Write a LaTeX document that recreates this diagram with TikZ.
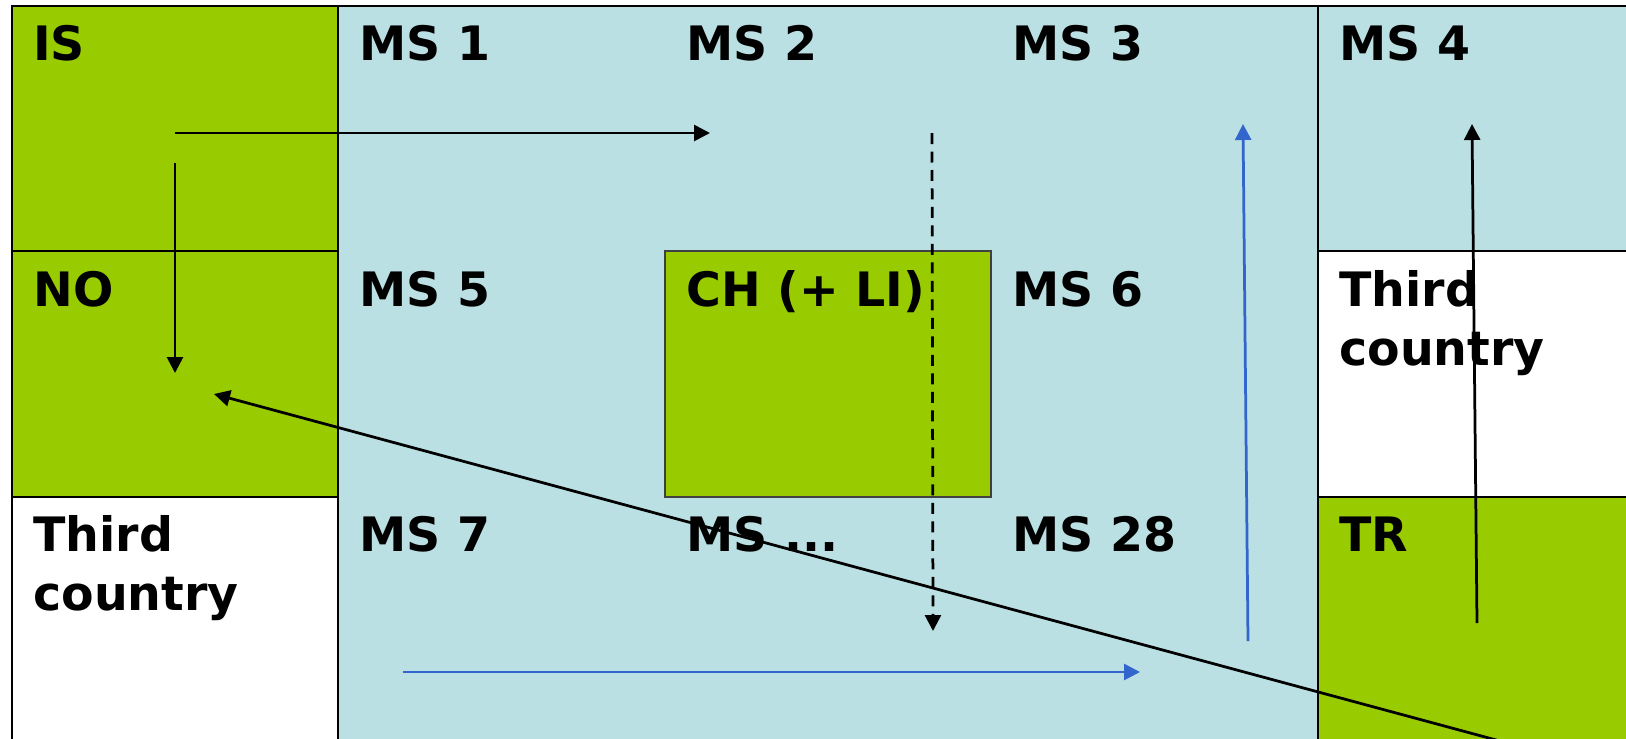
\documentclass[tikz,border=0pt]{standalone}
\usepackage{fontspec}
\setmainfont{DejaVu Sans}
\usetikzlibrary{arrows.meta, positioning}
\definecolor{eugreen}{HTML}{99CC00}
\definecolor{msblue}{HTML}{BBE0E3}
\definecolor{flowblue}{HTML}{3366CC}

\begin{document}
\begin{tikzpicture}[
    x=0.02cm, y=-0.02cm,
    cell/.style={draw=black, line width=0.6pt},
    lbl/.style={anchor=base west, inner sep=0pt, align=left, font=\fontsize{27}{33.5}\selectfont\bfseries},
    arr/.style={-{Triangle[length=3.2mm, width=3.2mm]}, line width=0.055cm},
    blarr/.style={arr, draw=flowblue, fill=flowblue},
    dasharr/.style={arr, dash pattern=on 0.22cm off 0.15cm}
]
\useasboundingbox (0,0) rectangle (1626,738);
\clip (0,0) rectangle (1626,738);
\fill[white] (0,0) rectangle (1626,738);
% member states block and side cells
\draw[cell, fill=msblue] (338,6) rectangle (1318,760);
\draw[cell, fill=eugreen] (12,6) rectangle (338,251);
\draw[cell, fill=eugreen] (12,251) rectangle (338,497);
\draw[cell, fill=white] (12,497) rectangle (338,760);
\draw[cell, fill=msblue] (1318,6) rectangle (1660,251);
\draw[cell, fill=white] (1318,251) rectangle (1660,497);
\draw[cell, fill=eugreen] (1318,497) rectangle (1660,760);
\draw[draw=black!75, line width=0.6pt, fill=eugreen] (665,251) rectangle (991,497);
\draw[line width=0.05cm] (12,760) -- (12,6) -- (1660,6);
% labels (two-line ones sit on the base of their last line)
\node[lbl] (is) at (33,60) {IS};
\node[lbl] (ms1) at (359,60) {MS 1};
\node[lbl] (ms2) at (686,60) {MS 2};
\node[lbl] (ms3) at (1012,60) {MS 3};
\node[lbl] (ms4) at (1339,60) {MS 4};
\node[lbl] (no) at (33,306) {NO};
\node[lbl] (ms5) at (359,306) {MS 5};
\node[lbl] (ch) at (686,306) {CH (+ LI)};
\node[lbl] (ms6) at (1012,306) {MS 6};
\node[lbl] (tcr) at (1339,365) {Third\\country};
\node[lbl] (tcl) at (33,610) {Third\\country};
\node[lbl] (ms7) at (359,551) {MS 7};
\node[lbl] (msx) at (686,551) {MS ...};
\node[lbl] (ms28) at (1012,551) {MS 28};
\node[lbl] (tr) at (1339,551) {TR};
% arrow ends
\coordinate (isA) at (175,133);
\coordinate (isB) at (710,133);
\coordinate (isC) at (175,163);
\coordinate (noA) at (175,373);
\coordinate (dA) at (932,133);
\coordinate (dB) at (933,631);
\coordinate (trA) at (1700,795);
\coordinate (noB) at (214,394);
\coordinate (bA) at (403,672);
\coordinate (bB) at (1140,672);
\coordinate (bC) at (1248,641);
\coordinate (bD) at (1243,124);
\coordinate (trB) at (1477,623);
\coordinate (ms4A) at (1472,124);
\foreach \x/\y in {isA/isB, isC/noA, trA/noB, trB/ms4A} \draw[arr] (\x) -- (\y);
\draw[dasharr] (dA) -- (dB);
\foreach \x/\y in {bA/bB, bC/bD} \draw[blarr] (\x) -- (\y);
\end{tikzpicture}
\end{document}
